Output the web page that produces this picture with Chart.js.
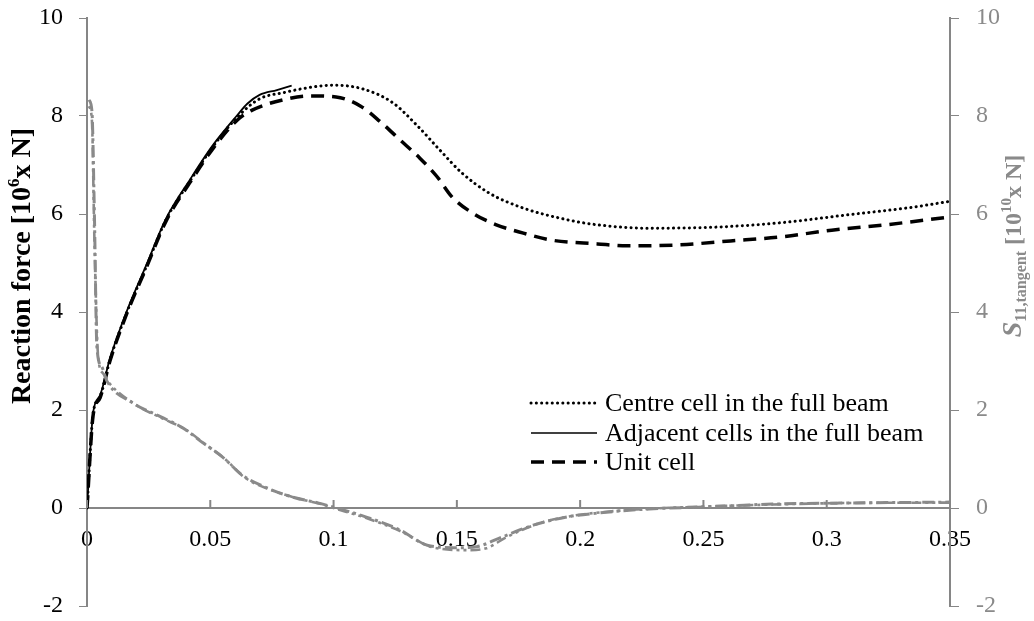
<!DOCTYPE html>
<html>
<head>
<meta charset="utf-8">
<script src="https://cdn.jsdelivr.net/npm/chart.js@4"></script>
<style>
  html, body { margin: 0; padding: 0; background: #fff; }
  #wrap { width: 1034px; height: 621px; }
</style>
</head>
<body>
<div id="wrap"><canvas id="chart"></canvas></div>
<script>
const SERIF = '"Times New Roman", "Liberation Serif", serif';
const GRAY = '#8a8a8a';
const AXIS = '#868686';

// strain values and reaction forces [10^6 x N]
const centreX = [0, 0.0025, 0.0053, 0.0093, 0.016, 0.024, 0.032, 0.042, 0.051, 0.061, 0.07, 0.08, 0.09, 0.0998, 0.112, 0.124, 0.134, 0.143, 0.152, 0.163, 0.177, 0.195, 0.207, 0.227, 0.254, 0.281, 0.308, 0.335, 0.35];
const centreY = [0, 1.93, 2.27, 3.02, 3.97, 4.92, 5.88, 6.69, 7.37, 7.98, 8.35, 8.48, 8.58, 8.63, 8.55, 8.27, 7.8, 7.31, 6.84, 6.43, 6.12, 5.88, 5.78, 5.71, 5.73, 5.82, 5.98, 6.14, 6.26];

const adjacentX = [0, 0.0025, 0.0053, 0.0093, 0.016, 0.024, 0.032, 0.042, 0.051, 0.061, 0.065, 0.07, 0.077, 0.083];
const adjacentY = [0, 1.95, 2.3, 3.05, 4.0, 4.95, 5.9, 6.72, 7.4, 8.02, 8.25, 8.43, 8.53, 8.62];

const unitX = [0, 0.0025, 0.0053, 0.0093, 0.016, 0.024, 0.032, 0.042, 0.051, 0.061, 0.067, 0.0795, 0.09, 0.101, 0.111, 0.119, 0.127, 0.135, 0.142, 0.148, 0.157, 0.166, 0.177, 0.188, 0.207, 0.219, 0.24, 0.261, 0.281, 0.302, 0.324, 0.35];
const unitY = [0, 1.9, 2.25, 3.0, 3.95, 4.9, 5.85, 6.66, 7.33, 7.92, 8.12, 8.33, 8.41, 8.39, 8.2, 7.88, 7.51, 7.14, 6.76, 6.35, 6.0, 5.78, 5.61, 5.47, 5.39, 5.35, 5.37, 5.45, 5.53, 5.67, 5.78, 5.94];

// tangent stiffness S11 [10^10 x N] (right axis)
const tangentAX = [0.0008, 0.002, 0.003, 0.004, 0.006, 0.008, 0.0187, 0.03, 0.039, 0.047, 0.055, 0.063, 0.073, 0.0835, 0.094, 0.0998, 0.113, 0.127, 0.138, 0.15, 0.158, 0.167, 0.181, 0.195, 0.208, 0.228, 0.25, 0.278, 0.305, 0.35];
const tangentAY = [8.33, 8.1, 6.0, 3.3, 2.88, 2.6, 2.14, 1.86, 1.63, 1.33, 1.04, 0.67, 0.41, 0.22, 0.1, 0.02, -0.18, -0.45, -0.76, -0.81, -0.79, -0.62, -0.35, -0.18, -0.1, -0.02, 0.02, 0.08, 0.1, 0.12];

const tangentBX = [0.0008, 0.002, 0.003, 0.0045, 0.0065, 0.009, 0.02, 0.031, 0.04, 0.048, 0.056, 0.064, 0.074, 0.085, 0.095, 0.1, 0.113, 0.127, 0.14, 0.155, 0.162, 0.17, 0.183, 0.197, 0.21, 0.23, 0.25, 0.278, 0.305, 0.35];
const tangentBY = [8.2, 7.9, 5.5, 3.1, 2.75, 2.55, 2.1, 1.82, 1.6, 1.3, 1.0, 0.62, 0.38, 0.2, 0.08, 0.0, -0.2, -0.47, -0.8, -0.86, -0.82, -0.6, -0.32, -0.16, -0.08, -0.01, 0.03, 0.07, 0.1, 0.11];

const legendLabels = ['Centre cell in the full beam', 'Adjacent cells in the full beam', 'Unit cell'];

const pts = (xs, ys) => xs.map((x, i) => ({ x: x, y: ys[i] }));

const line = (data, color, width, dash, axis, cap) => ({
  data: data,
  yAxisID: axis,
  borderColor: color,
  borderWidth: width,
  borderDash: dash,
  borderCapStyle: cap || 'butt',
  showLine: true,
  pointRadius: 0,
  fill: false,
  cubicInterpolationMode: 'monotone'
});

// no extra room for half tick labels, the plot box is set by layout padding
const noPad = s => { s.paddingTop = 0; s.paddingBottom = 0; };

// axis titles with sub/superscripts, x ticks pointing up, and the legend
const extras = {
  id: 'extras',
  afterDraw(chart) {
    const ctx = chart.ctx;

    // x tick marks sit above the axis line like in Excel
    const xs = chart.scales.x;
    const y0 = chart.scales.y.getPixelForValue(0);
    ctx.save();
    ctx.strokeStyle = AXIS;
    ctx.lineWidth = 2;
    xs.ticks.forEach(t => {
      const px = xs.getPixelForValue(t.value);
      ctx.beginPath();
      ctx.moveTo(px, y0 - 8);
      ctx.lineTo(px, y0);
      ctx.stroke();
    });
    ctx.restore();

    function runs(parts, cx, cy, color) {
      ctx.save();
      ctx.translate(cx, cy);
      ctx.rotate(-Math.PI / 2);
      ctx.fillStyle = color;
      ctx.textBaseline = 'alphabetic';
      let total = 0;
      parts.forEach(p => { ctx.font = p.font; p.w = ctx.measureText(p.t).width; total += p.w; });
      let x = -total / 2;
      parts.forEach(p => {
        ctx.font = p.font;
        ctx.fillText(p.t, x, 9 + (p.dy || 0));
        x += p.w;
      });
      ctx.restore();
    }

    runs([
      { t: 'Reaction force [10', font: 'bold 28px ' + SERIF },
      { t: '6', font: 'bold 17px ' + SERIF, dy: -11 },
      { t: 'x N]', font: 'bold 28px ' + SERIF }
    ], 21, 266, '#000');

    runs([
      { t: 'S', font: 'italic bold 28px ' + SERIF },
      { t: '11,tangent', font: 'bold 16px ' + SERIF, dy: 5 },
      { t: ' [10', font: 'bold 24px ' + SERIF },
      { t: '10', font: 'bold 15px ' + SERIF, dy: -10 },
      { t: 'x N]', font: 'bold 24px ' + SERIF }
    ], 1012, 246, GRAY);

    // legend
    const rows = [403, 433, 462];
    const styles = [
      { dash: [0.1, 5.2], w: 3, cap: 'round' },
      { dash: [], w: 1.6, cap: 'butt' },
      { dash: [13, 8], w: 3.5, cap: 'butt' }
    ];
    ctx.save();
    rows.forEach((y, i) => {
      ctx.beginPath();
      ctx.strokeStyle = '#000';
      ctx.lineWidth = styles[i].w;
      ctx.lineCap = styles[i].cap;
      ctx.setLineDash(styles[i].dash);
      ctx.moveTo(531, y);
      ctx.lineTo(597, y);
      ctx.stroke();
      ctx.setLineDash([]);
      ctx.font = '26px ' + SERIF;
      ctx.fillStyle = '#000';
      ctx.textBaseline = 'middle';
      ctx.fillText(legendLabels[i], 605, y + 1);
    });
    ctx.restore();
  }
};

new Chart(document.getElementById('chart'), {
  type: 'scatter',
  data: {
    datasets: [
      line(pts(tangentBX, tangentBY), GRAY, 2.6, [3, 4, 3, 4, 10, 4], 'y2'),
      line(pts(tangentAX, tangentAY), GRAY, 3, [12, 4, 3, 4], 'y2'),
      line(pts(unitX, unitY), '#000', 3.5, [13, 8], 'y'),
      line(pts(centreX, centreY), '#000', 3, [0.1, 5.2], 'y', 'round'),
      line(pts(adjacentX, adjacentY), '#000', 1.8, [], 'y')
    ]
  },
  options: {
    responsive: true,
    maintainAspectRatio: false,
    animation: false,
    layout: { padding: { top: 18, bottom: 15, left: 0, right: 0 } },
    plugins: { legend: { display: false }, tooltip: { enabled: false } },
    scales: {
      x: {
        type: 'linear',
        position: { y: 0 },
        min: 0,
        max: 0.35,
        afterFit: noPad,
        grid: { drawOnChartArea: false, drawTicks: false },
        border: { color: AXIS, width: 2 },
        ticks: {
          stepSize: 0.05,
          color: '#000',
          padding: 17,
          font: { family: SERIF, size: 24 },
          maxRotation: 0,
          callback: v => String(+v.toFixed(2))
        }
      },
      y: {
        position: 'left',
        min: -2,
        max: 10,
        afterFit: s => { s.width = 87; noPad(s); },
        grid: { drawOnChartArea: false, color: AXIS, tickLength: 8 },
        border: { color: AXIS, width: 2 },
        ticks: { stepSize: 2, color: '#000', padding: 16, font: { family: SERIF, size: 24 } }
      },
      y2: {
        position: 'right',
        min: -2,
        max: 10,
        afterFit: s => { s.width = 84; noPad(s); },
        grid: { drawOnChartArea: false, color: AXIS, tickLength: 9 },
        border: { color: AXIS, width: 2 },
        ticks: { stepSize: 2, color: GRAY, padding: 17, font: { family: SERIF, size: 24 } }
      }
    }
  },
  plugins: [extras]
});
</script>
</body>
</html>
